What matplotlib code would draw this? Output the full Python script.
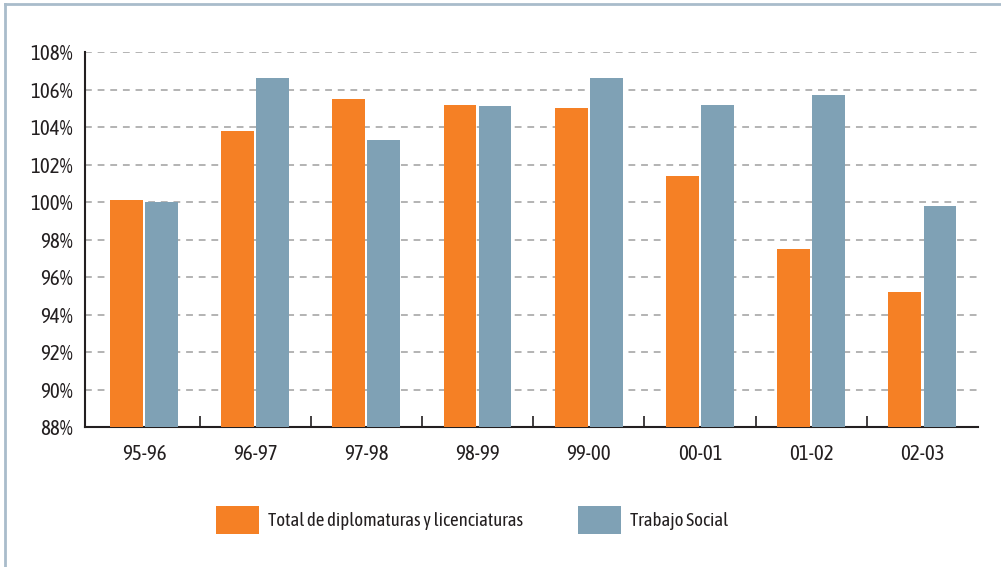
import numpy as np
import matplotlib.pyplot as plt
from matplotlib.lines import Line2D
from matplotlib.ticker import FixedLocator, NullFormatter

plt.rcParams['font.family'] = ['Asap Condensed', 'DejaVu Sans']

cursos = ['95-96', '96-97', '97-98', '98-99', '99-00', '00-01', '01-02', '02-03']
total = [100.1, 103.8, 105.5, 105.2, 105.0, 101.4, 97.5, 95.2]
trabajo_social = [100.0, 106.6, 103.3, 105.1, 106.6, 105.2, 105.7, 99.8]
yticks = list(range(88, 109, 2))

naranja = '#f58025'
azul = '#7fa1b5'
texto = '#231f20'

fig = plt.figure(figsize=(10.01, 5.67), dpi=100)
ax = fig.add_axes([85/1001, 1 - 427/567, 893/1001, 375/567])

x = np.arange(len(cursos))
w = 0.295
ax.bar(x - w/2 - 0.01, total, width=w, color=naranja,
       label='Total de diplomaturas y licenciaturas', zorder=3)
ax.bar(x + w/2 + 0.01, trabajo_social, width=w, color=azul,
       label='Trabajo Social', zorder=3)

ax.set_xlim(-0.53, len(cursos) - 0.5)
ax.set_ylim(88, 108)
ax.set_yticks(yticks)
ax.set_yticklabels([f'{v}%' for v in yticks], fontsize=15, color=texto)
ax.tick_params(axis='y', length=0, pad=9)

ax.set_xticks(x)
ax.set_xticklabels(cursos, fontsize=15, color=texto)
ax.tick_params(axis='x', which='major', length=0, pad=12)
ax.xaxis.set_minor_locator(FixedLocator(x[:-1] + 0.5))
ax.xaxis.set_minor_formatter(NullFormatter())
ax.tick_params(axis='x', which='minor', direction='in', length=8, width=1.2, color=texto)

ax.grid(axis='y', color='#b3b3b3', linestyle=(0, (3.5, 3)), linewidth=1.4, zorder=0)
for s in ['top', 'right']:
    ax.spines[s].set_visible(False)
for s in ['left', 'bottom']:
    ax.spines[s].set_color(texto)
    ax.spines[s].set_linewidth(1.5)

fig.legend(loc='center left', bbox_to_anchor=(199/1001, 1 - 520/567), ncol=2, frameon=False,
           fontsize=13.5, handlelength=2.3, handleheight=1.85, handletextpad=0.5,
           columnspacing=2.9, labelcolor=texto)

# marco exterior
fig.add_artist(Line2D([5/1001, 5/1001], [0, 1 - 4/567], color='#a9bccb', lw=2))
fig.add_artist(Line2D([5/1001, 1], [1 - 4/567, 1 - 4/567], color='#a9bccb', lw=2))

fig.savefig('out.png', dpi=100)
